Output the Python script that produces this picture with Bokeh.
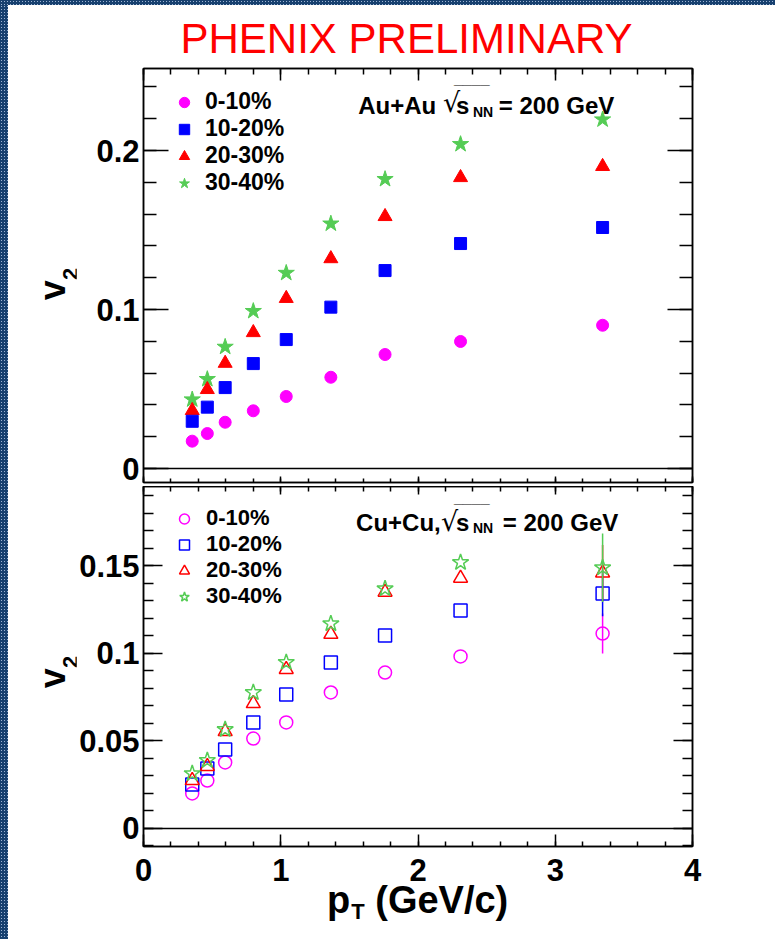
from bokeh.plotting import figure
from bokeh.models import (ColumnDataSource, Range1d, LinearAxis, FixedTicker, Label,
                          Span, Legend, LegendItem, Div)
from bokeh.layouts import column, row
from bokeh.embed import file_html
from bokeh.resources import INLINE

# ---------------- data ----------------
pt = [0.355, 0.465, 0.595, 0.80, 1.04, 1.365, 1.76, 2.31, 3.345]
centralities = ["0-10%", "10-20%", "20-30%", "30-40%"]

auau_0_10 = [0.0172, 0.0220, 0.0291, 0.0363, 0.0453, 0.0574, 0.0717, 0.0799, 0.0901]
auau_10_20 = [0.0297, 0.0386, 0.0509, 0.0660, 0.0811, 0.1015, 0.1245, 0.1415, 0.1516]
auau_20_30 = [0.0365, 0.0497, 0.0662, 0.0855, 0.1070, 0.1320, 0.1585, 0.1830, 0.1900]
auau_30_40 = [0.0434, 0.0562, 0.0765, 0.0990, 0.1230, 0.1540, 0.1820, 0.2040, 0.2195]

cucu_0_10 = [0.0200, 0.0274, 0.0377, 0.0514, 0.0606, 0.0777, 0.0891, 0.0983, 0.1114]
cucu_10_20 = [0.0251, 0.0343, 0.0451, 0.0606, 0.0766, 0.0949, 0.1103, 0.1246, 0.1343]
cucu_20_30 = [0.0274, 0.0355, 0.0554, 0.0714, 0.0909, 0.1110, 0.1350, 0.1430, 0.1460]
cucu_30_40 = [0.0314, 0.0389, 0.0566, 0.0777, 0.0949, 0.1170, 0.1370, 0.1520, 0.1490]

# statistical errors (only the last point's bars stick out of the markers)
cucu_err_0_10 = [0, 0, 0, 0, 0, 0, 0, 0, 0.0114]
cucu_err_10_20 = [0, 0, 0, 0, 0, 0, 0, 0, 0.0130]
cucu_err_20_30 = [0, 0, 0, 0, 0, 0, 0, 0, 0.0160]
cucu_err_30_40 = [0, 0, 0, 0, 0, 0, 0, 0, 0.0196]

x_ticks = [0, 1, 2, 3, 4]
x_tick_labels = ["0", "1", "2", "3", "4"]
x_minor = [round(i * 0.2, 2) for i in range(21)]
top_y_ticks = [0, 0.1, 0.2]
top_y_tick_labels = ["0", "0.1", "0.2"]
top_y_minor = [round(-0.02 + i * 0.02, 3) for i in range(15)]
bot_y_ticks = [0, 0.05, 0.1, 0.15]
bot_y_tick_labels = ["0", "0.05", "0.1", "0.15"]
bot_y_minor = [round(-0.01 + i * 0.01, 3) for i in range(21)]

colors = ["#ff00ff", "#0000ff", "#ff0000", "#55cc55"]
markers = ["circle", "square", "triangle", "star"]

FONT = "Liberation Sans"
LEFT_COL = 68          # width of the column that holds the rotated v2 titles
FIG_W = 775 - 8 - LEFT_COL


def style_axis(ax, tick_in, minor_in, labels, standoff=4):
    ax.axis_line_color = "black"
    ax.axis_line_width = 1.5
    ax.major_tick_in = tick_in
    ax.major_tick_out = 0
    ax.minor_tick_in = minor_in
    ax.minor_tick_out = 0
    ax.major_tick_line_color = "black"
    ax.major_tick_line_width = 1.5
    ax.minor_tick_line_color = "black"
    ax.minor_tick_line_width = 1.5
    if labels:
        ax.major_label_text_font = FONT
        ax.major_label_text_font_style = "bold"
        ax.major_label_text_font_size = "31px"
        ax.major_label_text_color = "black"
        ax.major_label_standoff = standoff
    else:
        ax.major_label_text_font_size = "1px"
        ax.major_label_standoff = 0


def add_axes(p, yt, ylab, yminor, y_in, y_min_in, xt_in_top, xm_top, xt_in_bot, xm_bot, xlabels):
    xtick = FixedTicker(ticks=x_ticks, minor_ticks=x_minor)
    ytick = FixedTicker(ticks=yt, minor_ticks=yminor)
    blank_y = {t: "" for t in yt}
    blank_x = {t: "" for t in x_ticks}
    left = LinearAxis(ticker=ytick, major_label_overrides=dict(zip(yt, ylab)))
    style_axis(left, y_in, y_min_in, True, 4)
    right = LinearAxis(ticker=ytick, major_label_overrides=blank_y)
    style_axis(right, y_in, y_min_in, False)
    below = LinearAxis(ticker=xtick, major_label_overrides=(dict(zip(x_ticks, x_tick_labels))
                                                           if xlabels else blank_x))
    style_axis(below, xt_in_bot, xm_bot, xlabels, 12)
    above = LinearAxis(ticker=xtick, major_label_overrides=blank_x)
    style_axis(above, xt_in_top, xm_top, False)
    p.add_layout(left, "left")
    p.add_layout(right, "right")
    p.add_layout(below, "below")
    p.add_layout(above, "above")
    p.add_layout(Span(location=0, dimension="width", line_color="black", line_width=1.5))


def lab(p, x, y, text, size, style="bold", font=FONT):
    p.add_layout(Label(x=x, y=y, text=text, text_font=font, text_font_size=size,
                       text_font_style=style, text_align="left",
                       text_baseline="alphabetic", text_color="black"))


def legend(items, margin, glyph_w, glyph_h, font_size):
    return Legend(items=items, location="top_left", margin=margin, padding=0, spacing=0,
                  glyph_width=glyph_w, glyph_height=glyph_h, label_height=glyph_h, label_standoff=0,
                  label_text_font=FONT, label_text_font_style="bold", label_text_font_size=font_size,
                  label_text_color="black", border_line_alpha=0, background_fill_alpha=0)


# ---------------- top panel (Au+Au) ----------------
p1 = figure(width=FIG_W, height=481, x_range=Range1d(0, 4), y_range=Range1d(-0.0088, 0.2516),
            x_axis_type=None, y_axis_type=None, output_backend="svg", toolbar_location=None,
            min_border_left=66, min_border_right=83, min_border_top=63, min_border_bottom=4)
p1.outline_line_color = "black"
p1.outline_line_width = 1.5
p1.background_fill_color = "white"
p1.border_fill_color = "white"
p1.title.text = "PHENIX PRELIMINARY"
p1.title.text_font = FONT
p1.title.text_font_size = "42px"
p1.title.text_font_style = "normal"
p1.title.text_color = "#ff0000"
p1.title.align = "left"
p1.title.offset = 37
p1.title.standoff = 13

add_axes(p1, top_y_ticks, top_y_tick_labels, top_y_minor, 25, 13, 12, 6, 6, 4, False)

top_series = [auau_0_10, auau_10_20, auau_20_30, auau_30_40]
top_sizes = [12, 12, 14, 17]
top_renderers = [None] * 4
for i in [3, 2, 1, 0]:
    src = ColumnDataSource(dict(x=pt, y=top_series[i]))
    top_renderers[i] = p1.scatter("x", "y", source=src, marker=markers[i], size=top_sizes[i],
                                  fill_color=colors[i], line_color=colors[i], line_width=1)

p1.add_layout(legend([LegendItem(label=centralities[i], renderers=[top_renderers[i]]) for i in range(4)],
                     20, 42, 26, "23px"))

lab(p1, 1.564, 0.2283, "Au+Au", "24px")
lab(p1, 2.182, 0.2302, "\u221a", "27px", style="normal", font="DejaVu Sans")
lab(p1, 2.262, 0.2456, "____", "16px")
lab(p1, 2.276, 0.2283, "s", "24px")
lab(p1, 2.400, 0.2245, "NN", "14px")
lab(p1, 2.589, 0.2283, "= 200 GeV", "24px")

# ---------------- bottom panel (Cu+Cu) ----------------
p2 = figure(width=FIG_W, height=410, x_range=Range1d(0, 4), y_range=Range1d(-0.0103, 0.1954),
            x_axis_type=None, y_axis_type=None, output_backend="svg", toolbar_location=None,
            min_border_left=66, min_border_right=83, min_border_top=0, min_border_bottom=50)
p2.outline_line_color = "black"
p2.outline_line_width = 1.5
p2.background_fill_color = "white"
p2.border_fill_color = "white"

add_axes(p2, bot_y_ticks, bot_y_tick_labels, bot_y_minor, 19, 10, 8, 5, 12, 5, True)

bot_series = [cucu_0_10, cucu_10_20, cucu_20_30, cucu_30_40]
bot_errs = [cucu_err_0_10, cucu_err_10_20, cucu_err_20_30, cucu_err_30_40]
bot_sizes = [13, 13, 14, 17]
bot_renderers = []
for i in range(4):
    lo = [v - e for v, e in zip(bot_series[i], bot_errs[i])]
    hi = [v + e for v, e in zip(bot_series[i], bot_errs[i])]
    src = ColumnDataSource(dict(x=pt, y=bot_series[i], lo=lo, hi=hi))
    p2.segment(x0="x", y0="lo", x1="x", y1="hi", source=src, line_color=colors[i], line_width=1.5)
    r = p2.scatter("x", "y", source=src, marker=markers[i], size=bot_sizes[i],
                   fill_color=None, line_color=colors[i], line_width=1.5)
    bot_renderers.append(r)

p2.add_layout(legend([LegendItem(label=centralities[i], renderers=[bot_renderers[i]]) for i in range(4)],
                     19, 44, 25, "22px"))

lab(p2, 1.549, 0.1750, "Cu+Cu,", "24px")
lab(p2, 2.167, 0.1754, "\u221a", "27px", style="normal", font="DejaVu Sans")
lab(p2, 2.262, 0.1891, "____", "16px")
lab(p2, 2.276, 0.1750, "s", "24px")
lab(p2, 2.400, 0.1715, "NN", "14px")
lab(p2, 2.618, 0.1750, "= 200 GeV", "24px")

# ---------------- axis titles (HTML text, outside the plot frames) ----------------
TXT = "font-family:'Liberation Sans',Arial,sans-serif;font-weight:bold;color:#000;white-space:nowrap;"


def v2_title(cx, cy):
    return (f'<div style="position:absolute;left:{cx}px;top:{cy}px;'
            f'transform:translate(-50%,-50%) rotate(-90deg);font-size:36px;line-height:36px;{TXT}">'
            f'v<span style="font-size:22px;position:relative;top:13px;">2</span></div>')


v_div = Div(text=(f'<div style="position:relative;width:{LEFT_COL}px;height:934px;">'
                  + v2_title(47, 279) + v2_title(47, 667) + '</div>'),
            width=LEFT_COL, height=934, margin=0, styles={"overflow": "visible"})

x_div = Div(text=(f'<div style="position:relative;width:{FIG_W}px;height:43px;overflow:visible;">'
                  f'<div style="position:absolute;left:{327 - 76}px;top:-15px;font-size:38px;line-height:38px;{TXT}">'
                  f'p<span style="font-size:22px;position:relative;top:6px;margin-left:1px;">T</span>'
                  f'&nbsp;(GeV/c)</div></div>'),
            width=FIG_W, height=43, margin=0, styles={"overflow": "visible"})

# ---------------- page with dotted blue frame ----------------
pattern = {"background-color": "#17406f",
           "background-image": "radial-gradient(circle, #9db4d4 0.8px, transparent 1px)",
           "background-size": "3px 3px"}
top_strip = Div(text="", width=775, height=5, styles=pattern, margin=0)
left_strip = Div(text="", width=8, height=934, styles=pattern, margin=0)

page = column(top_strip,
              row(left_strip, v_div, column(p1, p2, x_div, spacing=0), spacing=0),
              spacing=0)

open("out.html", "w").write(file_html(page, INLINE))
